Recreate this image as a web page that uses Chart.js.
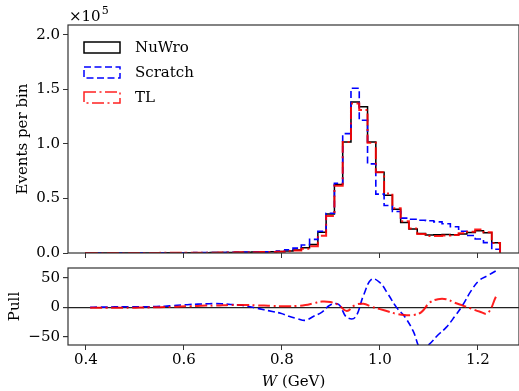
<!DOCTYPE html>
<html>
<head>
<meta charset="utf-8">
<script src="https://cdn.jsdelivr.net/npm/chart.js@4.4.1/dist/chart.umd.min.js"></script>
<style>
  html, body { margin: 0; padding: 0; background: #fff; overflow: hidden; }
  #wrap { position: relative; width: 519px; height: 391px; overflow: hidden; }
  #top { position: absolute; left: 0; top: 0; }
  #pull { position: absolute; left: 0; top: 250px; }
</style>
</head>
<body>
<div id="wrap">
  <canvas id="top" width="519" height="270"></canvas>
  <canvas id="pull" width="519" height="141"></canvas>
</div>
<script>
// binning in W (GeV)
const binLow = 0.4;
const binWidth = 0.0169;
const nBins = 50;

const seriesNames = ["NuWro", "Scratch", "TL"];

// events per bin, units of 1e5
const nuwro = [0.0003, 0.0003, 0.0004, 0.0004, 0.0005, 0.0006, 0.0007, 0.0008, 0.001, 0.0012,
  0.0014, 0.0017, 0.002, 0.0025, 0.003, 0.0037, 0.0045, 0.0055, 0.0065, 0.0075,
  0.0085, 0.0095, 0.011, 0.013, 0.018, 0.028, 0.048, 0.078, 0.19, 0.357,
  0.627, 1.017, 1.385, 1.34, 1.017, 0.74, 0.53, 0.40, 0.28, 0.22,
  0.178, 0.165, 0.168, 0.17, 0.168, 0.175, 0.188, 0.205, 0.185, 0.095];
const scratch = [0.0003, 0.0003, 0.0004, 0.0005, 0.0006, 0.0007, 0.0008, 0.0009, 0.0011, 0.0013,
  0.0016, 0.002, 0.0024, 0.003, 0.0036, 0.0043, 0.0052, 0.0062, 0.0072, 0.0082,
  0.009, 0.01, 0.012, 0.018, 0.03, 0.045, 0.074, 0.125, 0.20, 0.365,
  0.64, 1.094, 1.51, 1.217, 0.817, 0.54, 0.435, 0.38, 0.32, 0.31,
  0.30, 0.295, 0.285, 0.268, 0.24, 0.20, 0.16, 0.128, 0.095, 0.034];
const tl = [0.0003, 0.0003, 0.0004, 0.0004, 0.0005, 0.0006, 0.0007, 0.0008, 0.001, 0.0012,
  0.0014, 0.0016, 0.0019, 0.0023, 0.0028, 0.0034, 0.0041, 0.005, 0.006, 0.007,
  0.008, 0.009, 0.01, 0.012, 0.016, 0.024, 0.038, 0.062, 0.157, 0.34,
  0.617, 1.017, 1.37, 1.31, 1.01, 0.74, 0.545, 0.41, 0.29, 0.225,
  0.175, 0.155, 0.155, 0.16, 0.165, 0.18, 0.195, 0.215, 0.19, 0.092];

// pull per bin
const pullScratch = [0, 0.5, 0.5, 1, 1, 1, 1, 1, 1.5, 2,
  3, 4, 5, 5.5, 6, 6.5, 6, 5, 4, 2,
  -1, -4, -7, -10, -15, -19, -22, -15, -8, 4,
  5, -17, -17, 20, 48, 42, 22, 0, -16, -40,
  -72, -62, -47, -34, -16, 4, 28, 46, 54, 62];
const pullTL = [-0.5, -0.5, -0.5, -0.5, -0.5, -0.5, -0.3, 0, 0.3, 0.5,
  1, 1.5, 2, 2.5, 3, 3, 3.5, 4, 4, 4,
  3.5, 3, 2.5, 2, 2, 2.5, 4, 7, 10, 9,
  4, -6, 4, 6, 1, -3, -7, -11, -13, -13,
  -8, 8, 14, 14, 8, 3, -2, -7, -10, 18];

const xTicks = [0.4, 0.6, 0.8, 1.0, 1.2];
const yTicksTop = [0, 0.5, 1.0, 1.5, 2.0];
const yTicksPull = [-50, 0, 50];

const edges = [];
for (let i = 0; i <= nBins; i++) edges.push(binLow + i * binWidth);
const centers = edges.slice(0, nBins).map(e => e + binWidth / 2);

const colors = ["#000000", "#0000ff", "rgba(255,0,0,0.88)"];
const dashes = [[], [7, 3.5], [12, 3.5, 2, 3.5]];
const widths = [1.5, 1.6, 2];

Chart.defaults.font.family = "'DejaVu Serif', serif";
Chart.defaults.font.size = 15;
Chart.defaults.color = "#000";

function stepPoints(vals) {
  const pts = [{ x: edges[0], y: 0 }];
  vals.forEach((v, i) => pts.push({ x: edges[i], y: v }));
  pts.push({ x: edges[vals.length], y: vals[vals.length - 1] });
  pts.push({ x: edges[vals.length], y: 0 });
  return pts;
}

const frame = {
  id: "frame",
  afterDatasetsDraw(chart) {
    const { ctx, chartArea: a } = chart;
    ctx.save();
    ctx.strokeStyle = "#333";
    ctx.lineWidth = 1.2;
    ctx.strokeRect(a.left, a.top, a.right - a.left, a.bottom - a.top);
    ctx.restore();
  }
};

const histLegend = {
  id: "histLegend",
  afterDraw(chart) {
    const { ctx, chartArea: a } = chart;
    ctx.save();
    seriesNames.forEach((name, i) => {
      const y = a.top + 17 + i * 25;
      ctx.setLineDash(dashes[i]);
      ctx.lineWidth = 1.5;
      ctx.strokeStyle = colors[i];
      ctx.strokeRect(a.left + 16, y, 36, 11);
      ctx.setLineDash([]);
      ctx.fillStyle = "#000";
      ctx.font = "15px 'DejaVu Serif'";
      ctx.textBaseline = "middle";
      ctx.fillText(name, a.left + 67, y + 6);
    });
    // offset text of the y axis
    ctx.font = "15px 'DejaVu Serif'";
    ctx.textBaseline = "alphabetic";
    ctx.fillText("\u00d710", a.left + 1, a.top - 4);
    const w = ctx.measureText("\u00d710").width;
    ctx.font = "11px 'DejaVu Serif'";
    ctx.fillText("5", a.left + 1 + w + 1, a.top - 11);
    ctx.restore();
  }
};

const xTitle = {
  id: "xTitle",
  afterDraw(chart) {
    const { ctx, chartArea: a } = chart;
    const cx = (a.left + a.right) / 2;
    const cy = chart.height - 9;
    ctx.save();
    ctx.fillStyle = "#000";
    ctx.textBaseline = "middle";
    ctx.font = "italic 15px 'DejaVu Serif'";
    const w1 = ctx.measureText("W").width;
    ctx.font = "15px 'DejaVu Serif'";
    const w2 = ctx.measureText(" (GeV)").width;
    let x = cx - (w1 + w2) / 2;
    ctx.font = "italic 15px 'DejaVu Serif'";
    ctx.fillText("W", x, cy);
    ctx.font = "15px 'DejaVu Serif'";
    ctx.fillText(" (GeV)", x + w1, cy);
    ctx.restore();
  }
};

const xMin = 0.3633, xMax = 1.2837;

function xScale(showLabels, height) {
  return {
    type: "linear",
    min: xMin,
    max: xMax,
    afterBuildTicks: s => { s.ticks = xTicks.map(v => ({ value: v })); },
    afterFit: s => { s.height = height; },
    border: { display: false },
    grid: { drawOnChartArea: false, tickLength: 5, tickColor: "#333", tickWidth: 1 },
    ticks: { display: showLabels, padding: 1, maxRotation: 0, callback: v => v.toFixed(1) }
  };
}

new Chart(document.getElementById("top"), {
  type: "line",
  data: {
    datasets: [nuwro, scratch, tl].map((vals, i) => ({
      label: seriesNames[i],
      data: stepPoints(vals),
      borderColor: colors[i],
      borderWidth: widths[i],
      borderDash: dashes[i],
      stepped: "before",
      pointRadius: 0,
      fill: false,
      order: 3 - i
    }))
  },
  options: {
    responsive: false,
    animation: false,
    layout: { padding: { top: 25, left: 0, right: 0, bottom: 0 } },
    plugins: { legend: { display: false }, tooltip: { enabled: false } },
    scales: {
      x: xScale(false, 17),
      y: {
        min: 0,
        max: 2.09,
        afterBuildTicks: s => { s.ticks = yTicksTop.map(v => ({ value: v })); },
        afterFit: s => { s.width = 68; },
        border: { display: false },
        grid: { drawOnChartArea: false, tickLength: 5, tickColor: "#333" },
        ticks: { padding: 3, callback: v => v.toFixed(1) },
        title: { display: true, text: "Events per bin", padding: { top: 14 } }
      }
    }
  },
  plugins: [frame, histLegend]
});

new Chart(document.getElementById("pull"), {
  type: "line",
  data: {
    datasets: [pullScratch, pullTL].map((vals, k) => {
      const i = k + 1;
      return {
        label: seriesNames[i],
        data: vals.map((v, j) => ({ x: centers[j], y: v })),
        borderColor: colors[i],
        borderWidth: widths[i],
        borderDash: dashes[i],
        tension: 0.4,
        pointRadius: 0,
        fill: false,
        order: 3 - i
      };
    })
  },
  options: {
    responsive: false,
    animation: false,
    layout: { padding: { top: 18, left: 0, right: 0, bottom: 0 } },
    plugins: { legend: { display: false }, tooltip: { enabled: false } },
    scales: {
      x: Object.assign(xScale(true, 46), {
        title: { display: true, text: "W (GeV)", color: "rgba(0,0,0,0)", padding: { top: 0, bottom: 0 } }
      }),
      y: {
        min: -64,
        max: 67,
        afterBuildTicks: s => { s.ticks = yTicksPull.map(v => ({ value: v })); },
        afterFit: s => { s.width = 68; },
        border: { display: false },
        grid: {
          color: c => (c.tick && c.tick.value === 0 ? "#222" : "rgba(0,0,0,0)"),
          lineWidth: 1.2,
          tickLength: 5,
          tickColor: "#333"
        },
        ticks: { padding: 3, callback: v => (v < 0 ? "\u2212" + Math.abs(v) : String(v)) },
        title: { display: true, text: "Pull", padding: { top: 6 } }
      }
    }
  },
  plugins: [frame, xTitle]
});
</script>
</body>
</html>
